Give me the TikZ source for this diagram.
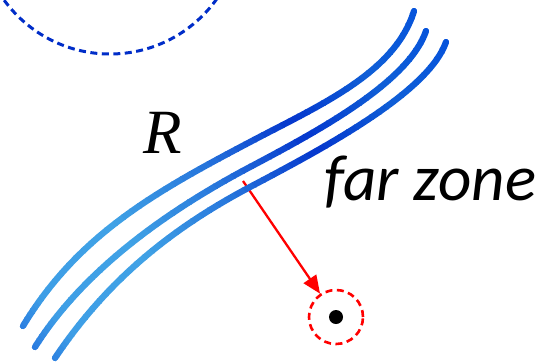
\documentclass[tikz,border=0pt]{standalone}
\usepackage{fontspec}
\setmainfont{Liberation Serif}
\newfontfamily\carl{Carlito}
\usetikzlibrary{arrows.meta}
\definecolor{k0}{RGB}{34,112,222}
\definecolor{k1}{RGB}{62,158,230}
\definecolor{k2}{RGB}{64,162,230}
\definecolor{k3}{RGB}{40,120,220}
\definecolor{k4}{RGB}{5,55,205}
\definecolor{k5}{RGB}{15,95,215}
\definecolor{k6}{RGB}{5,80,220}
\definecolor{circblue}{RGB}{0,45,200}
\tikzset{
  curve/.style={line width=6.3pt,line cap=round},
  bluedash/.style={draw=circblue,line width=3pt,dash pattern=on 7pt off 4.5pt},
  reddash/.style={circle,draw=red,line width=2.6pt,dash pattern=on 7pt off 4.5pt,minimum size=54pt,inner sep=0pt},
  blackdot/.style={circle,fill=black,minimum size=14pt,inner sep=0pt},
  redarrow/.style={draw=red,line width=2.3pt,-{Triangle[length=18pt,width=15pt]}},
  lbl/.style={inner sep=0pt}
}
\newcommand\bluecurves[1]{%
  \draw[curve,#1] (23,326) .. controls (78,235) and (155,192) .. (250,142)
                           .. controls (320,105) and (395,73) .. (414,11);
  \draw[curve,#1] (35,347) .. controls (83,271) and (165,212) .. (250,167)
                           .. controls (320,130) and (408.5,82) .. (426,31);
  \draw[curve,#1] (55,358) .. controls (104,285) and (165,232) .. (250,187)
                           .. controls (320,150) and (428.5,93) .. (446,42);
}
\begin{document}
\begin{tikzpicture}[x=1pt,y=-1pt]
\useasboundingbox (0,0) rectangle (556,362);
\clip (0,0) rectangle (556,362);
% dashed circle top-left
\draw[bluedash] (110,-77) circle[radius=131];
% red arrow and target
\node[reddash] (tgt) at (336,317) {};
\node[blackdot] (dot) at (336,317) {};
\coordinate (src) at (243,181);
\draw[redarrow] (src) -- (tgt);
% gradient curves
\foreach \sa/\sb/\ca/\cb in {-215/-165/k0/k1,-165/-60/k1/k2,-60/40/k2/k3,40/140/k3/k4,140/230/k4/k5,230/330/k5/k6}{
  \foreach \k in {0,...,9}{
    \pgfmathsetmacro\pa{\sa+(\sb-\sa)*\k/10}
    \pgfmathsetmacro\pb{\pa+(\sb-\sa)/10+1}
    \pgfmathtruncatemacro\pc{\k*10+5}
    \begin{scope}
      \clip[rotate=41] (\pa,-900) rectangle (\pb,900);
      \colorlet{bandc}{\cb!\pc!\ca}
      \bluecurves{bandc}
    \end{scope}
  }
}
% labels
\node[lbl,anchor=base,font=\fontsize{63}{63}\selectfont\itshape] (R) at (163,153) {R};
\node[lbl,anchor=base west,font=\carl\fontsize{65}{65}\selectfont\itshape] (far) at (324,200) {far zone};
\end{tikzpicture}
\end{document}
